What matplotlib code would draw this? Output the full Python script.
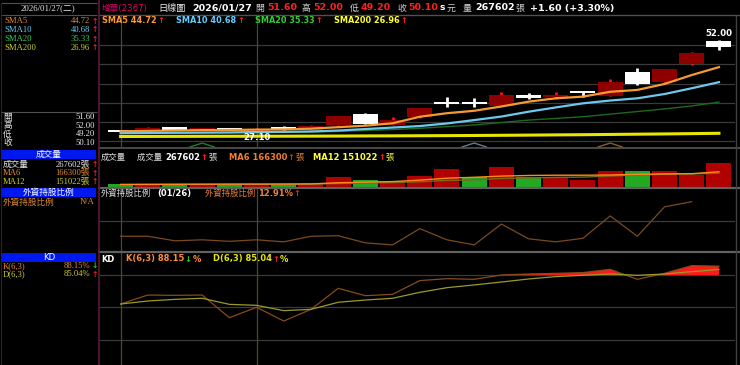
import matplotlib
matplotlib.use('Agg')
import matplotlib.pyplot as plt
from matplotlib.patches import Rectangle
import matplotlib.transforms as mtransforms
import numpy as np

# ---------------- data ----------------
open_ = [27.85, 27.70, 28.55, 27.95, 28.00, 27.70, 28.70, 27.90, 29.20, 32.10, 29.30, 31.20,
         35.05, 35.40, 34.40, 37.30, 36.60, 37.85, 37.00, 43.50, 40.65, 45.55, 51.60]
high = [27.90, 28.60, 28.60, 28.20, 28.10, 28.50, 28.80, 29.30, 31.70, 32.50, 31.30, 33.80,
        36.60, 36.35, 38.10, 37.85, 38.10, 38.40, 41.45, 44.40, 44.30, 48.70, 52.00]
low = [27.20, 27.60, 27.80, 27.80, 27.80, 27.10, 27.80, 27.80, 29.10, 29.40, 29.20, 31.00,
       34.00, 34.00, 34.30, 36.10, 36.20, 36.80, 36.90, 39.90, 40.20, 45.40, 49.20]
close = [27.30, 28.45, 27.90, 28.05, 27.90, 28.20, 27.85, 28.90, 31.60, 29.50, 30.60, 33.70,
         34.95, 34.75, 37.25, 36.50, 37.15, 37.75, 40.80, 40.10, 44.15, 48.50, 50.10]

sma5 = [27.50, 27.60, 27.70, 27.80, 27.85, 27.95, 28.00, 28.20, 28.60, 29.00, 29.65, 31.40,
        32.35, 33.00, 34.15, 35.45, 36.35, 36.80, 38.10, 38.60, 40.20, 42.60, 44.72]
sma10 = [27.00, 27.05, 27.10, 27.15, 27.20, 27.30, 27.35, 27.45, 27.70, 28.10, 28.50, 28.90,
         29.60, 30.50, 31.45, 32.75, 33.90, 35.00, 35.75, 36.35, 37.50, 39.05, 40.68]
sma20 = [26.90, 26.95, 27.00, 27.05, 27.10, 27.15, 27.20, 27.30, 27.45, 27.70, 27.95, 28.30,
         28.75, 29.20, 29.85, 30.50, 30.95, 31.40, 32.10, 32.80, 33.50, 34.30, 35.33]
sma200 = [26.10, 26.12, 26.13, 26.15, 26.16, 26.17, 26.18, 26.20, 26.22, 26.25, 26.27, 26.30,
          26.33, 26.37, 26.42, 26.47, 26.53, 26.58, 26.65, 26.72, 26.79, 26.87, 26.96]

volume = [28000, 30000, 29000, 30000, 29000, 31000, 30000, 38000, 105000, 75000, 64000, 119000,
          197000, 112000, 223000, 105000, 94000, 75000, 175000, 175000, 175000, 130000, 267602]
vol_up = [0, 1, 0, 1, 0, 1, 0, 1, 1, 0, 1, 1, 1, 0, 1, 0, 1, 1, 1, 0, 1, 1, 1]
vol_ma6 = [25000, 26000, 27000, 28000, 28500, 29000, 29500, 31000, 44000, 51000, 57000, 73000,
           95000, 105000, 118000, 125000, 128000, 128000, 130000, 138000, 142000, 145000, 166300]
vol_ma12 = [24000, 25000, 25500, 26000, 26500, 27000, 27500, 28500, 35000, 41000, 46000, 55000,
            70000, 76000, 92000, 98000, 104000, 107000, 119000, 130000, 139000, 141000, 151022]

foreign = [12.23, 12.23, 12.14, 12.16, 12.13, 12.16, 12.12, 12.23, 12.24, 12.10, 12.06, 12.38,
           12.16, 12.06, 12.47, 12.18, 12.12, 12.19, 12.63, 12.23, 12.81, 12.91]

k_val = [53.2, 61.5, 61.2, 61.5, 40.6, 50.2, 37.5, 48.3, 67.7, 60.9, 62.2, 74.8,
         76.6, 76.0, 80.0, 80.9, 81.5, 82.2, 85.2, 76.0, 81.5, 88.6, 88.15]
d_val = [53.2, 56.0, 57.5, 58.5, 52.9, 52.0, 47.1, 48.3, 54.8, 56.9, 58.5, 64.0,
         68.3, 70.8, 73.5, 76.3, 78.5, 79.7, 80.9, 79.7, 80.9, 83.1, 85.04]

caret_idx = [3, 13, 18]
caret_col = ['#1f7a2a', '#6a7a88', '#8a5a2a']

# ---------------- figure ----------------
W, H = 740, 365
fig = plt.figure(figsize=(W / 100, H / 100), dpi=100, facecolor='black')
renderer = fig.canvas.get_renderer()

CJK = ['DejaVu Sans', 'Noto Sans CJK TC']
SERIF = ['Liberation Serif', 'Noto Sans CJK TC']


def axes_px(x0, y0, x1, y1):
    a = fig.add_axes([x0 / W, 1 - y1 / H, (x1 - x0) / W, (y1 - y0) / H])
    a.set_facecolor('black')
    for s in a.spines.values():
        s.set_visible(False)
    a.set_xticks([])
    a.set_yticks([])
    return a


n = len(close)
idx = np.arange(n)
XL = (-0.757, 22.59)
GRID = '#3a3a3a'

# ---- price panel ----
axp = axes_px(100, 15, 735, 147)
axp.set_xlim(*XL)
axp.set_ylim(23.28, 58.71)
for gy in np.linspace(24.76, 50.66, 6):
    axp.axhline(gy, color=GRID, lw=0.9, zorder=0)
for gx in (0, 5):
    axp.axvline(gx, color='#474747', lw=0.9, zorder=0)

axp.plot(idx, sma200, color='#e6e600', lw=2.2, zorder=2)
axp.plot(idx, sma20, color='#1d6a1d', lw=1.0, zorder=2)
axp.plot(idx, sma10, color='#6cc8ec', lw=1.6, zorder=4)
axp.plot(idx, sma5, color='#f59a30', lw=1.6, zorder=4)

for i in range(n):
    o, h, l, c = open_[i], high[i], low[i], close[i]
    up = c >= o
    body_c = '#8e0000' if up else '#ffffff'
    wick_c = '#ff1010' if up else '#ffffff'
    axp.vlines(i, l, h, color=wick_c, lw=2.0, zorder=3)
    bh = max(abs(c - o), 0.45)
    axp.add_patch(Rectangle((i - 0.46, min(o, c)), 0.92, bh, facecolor=body_c,
                            edgecolor='none', zorder=3.5))

axp.annotate(f'{high[-1]:.2f}', (n - 1, high[-1]), xytext=(0, 1.5), textcoords='offset points',
             ha='center', va='bottom', color='white', fontsize=6.2, fontweight='bold')
imin = int(np.argmin(low))
axp.annotate(f'{low[imin]:.2f}', (imin, low[imin]), xytext=(0, -0.5), textcoords='offset points',
             ha='center', va='top', color='white', fontsize=6.2, fontweight='bold', zorder=6)

btr = mtransforms.blended_transform_factory(axp.transData, axp.transAxes)
for ci, cc in zip(caret_idx, caret_col):
    axp.plot([ci - 0.45, ci, ci + 0.45], [0.0, 0.03, 0.0], color=cc, lw=1.0,
             transform=btr, clip_on=False, zorder=5)

# ---- volume panel ----
axv = axes_px(100, 149, 735, 186.7)
axv.set_xlim(*XL)
axv.set_ylim(0, 420000)
vcols = ['#b00000' if u else '#22a822' for u in vol_up]
axv.bar(idx, volume, width=0.92, color=vcols, zorder=2)
axv.plot(idx, vol_ma12, color='#7a6a14', lw=1.0, zorder=3)
axv.plot(idx, vol_ma6, color='#ff8a1a', lw=1.0, zorder=3)

# ---- foreign holding panel ----
axf = axes_px(100, 188, 735, 252)
axf.set_xlim(*XL)
axf.set_ylim(11.92, 13.18)
axf.axhline(12.54, color=GRID, lw=0.9, zorder=0)
for gx in (0, 5):
    axf.axvline(gx, color='#474747', lw=0.9, zorder=0)
axf.plot(np.arange(len(foreign)), foreign, color='#7a4a1e', lw=0.9, zorder=2)

# ---- KD panel ----
axk = axes_px(100, 252, 735, 365)
axk.set_xlim(*XL)
axk.set_ylim(-3.05, 101.2)
for gy in (20, 50, 80):
    axk.axhline(gy, color=GRID, lw=0.9, zorder=0)
for gx in (0, 5):
    axk.axvline(gx, color='#4a4a30', lw=0.9, zorder=0)
kk = np.array(k_val)
axk.fill_between(idx, kk, 80, where=kk > 80, interpolate=True, color='#ff1a1a', lw=0, zorder=1)
axk.plot(idx, k_val, color='#8a4a1c', lw=0.9, zorder=2)
axk.plot(idx, d_val, color='#9a9a2a', lw=0.9, zorder=2)

# ---------------- overlay (pixel coords) ----------------
ax0 = fig.add_axes([0, 0, 1, 1], zorder=10)
ax0.set_xlim(0, W)
ax0.set_ylim(H, 0)
ax0.axis('off')
ax0.patch.set_alpha(0)


def T(x, y, s, c, size=6.0, bold=False, fam=None, ha='left'):
    return ax0.text(x, y, s, color=c, fontsize=size, fontweight='bold' if bold else 'normal',
                    family=fam or CJK, ha=ha, va='center')


def chain(x, y, pieces, gap=0.5):
    """pieces: list of (text, color, size, bold, fam); drawn left to right."""
    for s, c, size, bold, fam in pieces:
        t = T(x, y, s, c, size, bold, fam)
        x += t.get_window_extent(renderer).width + gap
    return x


def L(xs, ys, c, lw=1.0):
    ax0.plot(xs, ys, color=c, lw=lw, solid_capstyle='butt')


RED = '#ff1a1a'
ARW = 6.0

# borders / separators
L([98, 740], [15, 15], '#505050', 1.0)
L([98, 740], [148, 148], '#555555', 1.2)
L([98, 740], [187.8, 187.8], '#606060', 1.6)
L([98, 740], [251.8, 251.8], '#606060', 1.6)
L([98.5, 98.5], [0, 365], '#5a1a3a', 1.2)
L([735.5, 735.5], [15, 365], '#404040', 1.0)
L([1, 97], [2.5, 2.5], '#505050', 0.8)
L([1, 97], [15, 15], '#505050', 0.8)
L([1, 1], [2.5, 365], '#3a1a2a', 0.8)
L([1, 97], [111.5, 111.5], '#505050', 0.8)

# header
T(48, 8.5, '2026/01/27(二)', '#e8e8e8', 6.3, fam=SERIF, ha='center')
T(102, 8, '增華(2367)', '#d8006a', 6.2)
T(158, 8, '日線圖', '#e8e8e8', 6.6)
T(192, 8, '2026/01/27', '#ffffff', 6.8, bold=True)
hdr = [(255, '開', 267, '51.60'), (302, '高', 313, '52.00'), (350, '低', 361, '49.20'),
       (397, '收', 408, '50.10')]
for xl, lab, xv, val in hdr:
    T(xl, 8, lab, '#d0d0d0', 6.4)
    T(xv, 8, val, '#ff2020', 6.8, bold=True)
T(440, 8, 's', '#ffffff', 6.6, bold=True)
T(447, 8, '元', '#d0d0d0', 6.4)
T(463, 8, '量', '#d0d0d0', 6.4)
T(475, 8, '267602', '#ffffff', 6.8, bold=True)
T(515, 8, '張', '#d0d0d0', 6.4)
T(530, 8, '+1.60 (+3.30%)', '#ffffff', 6.8, bold=True)

# price legend
leg = [(102, 'SMA5 44.72', '#ff9a30'), (176, 'SMA10 40.68', '#66ccff'),
       (255, 'SMA20 35.33', '#33cc33'), (334, 'SMA200 26.96', '#ffff33')]
for x, s, c in leg:
    chain(x, 20.5, [(s, c, 5.9, True, None), ('↑', RED, ARW, True, None)], gap=1.0)

# volume legend
T(101, 157, '成交量', '#e0e0e0', 6.0)
chain(137, 157, [('成交量 ', '#e0e0e0', 6.0, False, None), ('267602', '#ffffff', 6.0, True, None),
                 ('↑', RED, ARW, True, None), ('張', '#e0e0e0', 6.0, False, None)])
chain(229, 157, [('MA6 166300', '#f08030', 6.0, True, None), ('↑', RED, ARW, True, None),
                 ('張', '#f08030', 6.0, False, None)])
chain(313, 157, [('MA12 151022', '#ffff33', 6.0, True, None), ('↑', RED, ARW, True, None),
                 ('張', '#ffff33', 6.0, False, None)])

# foreign legend
T(101, 193.5, '外資持股比例', '#e0e0e0', 6.0)
T(157, 193.5, '(01/26)', '#ffffff', 6.0, bold=True)
chain(205, 193.5, [('外資持股比例 ', '#f08030', 6.0, False, None),
                   ('12.91%', '#f08030', 6.0, True, None), ('↑', RED, ARW, True, None)])

# KD legend
T(101, 259, 'KD', '#ffffff', 6.0, bold=True)
chain(126, 259, [('K(6,3) 88.15', '#ff8c3a', 6.0, True, None), ('↓', '#22cc22', ARW, True, None),
                 ('%', '#ff8c3a', 6.0, True, None)])
chain(213, 259, [('D(6,3) 85.04', '#e6e600', 6.0, True, None), ('↑', RED, ARW, True, None),
                 ('%', '#e6e600', 6.0, True, None)])

# left panel
rows = [(21, 'SMA5', '44.72', '#e08a30'), (30, 'SMA10', '40.68', '#66ccee'),
        (39, 'SMA20', '35.33', '#33cc55'), (48, 'SMA200', '26.96', '#cccc33')]
for y, lab, val, c in rows:
    T(4, y, lab, c, 6.2, fam=SERIF)
    T(90, y, val, c, 6.2, fam=SERIF, ha='right')
    T(91.5, y, '↑', RED, 5.5, bold=True)

ohlc_rows = [(117, '開', '51.60'), (125.7, '高', '52.00'), (134.4, '低', '49.20'), (143, '收', '50.10')]
for y, lab, val in ohlc_rows:
    T(3, y, lab, '#e8e8e8', 6.2)
    T(95, y, val, '#e8e8e8', 6.2, fam=SERIF, ha='right')


def blue_bar(y0, y1, s):
    ax0.add_patch(Rectangle((2, y0), 94, y1 - y0, facecolor='#0018f0', edgecolor='none'))
    T(49, (y0 + y1) / 2, s, '#ffffff', 6.2, ha='center')


blue_bar(150, 158.5, '成交量')
T(3, 164.5, '成交量', '#e8e8e8', 6.2)
T(90, 164.5, '267602張', '#e8e8e8', 6.2, fam=SERIF, ha='right')
T(91.5, 164.5, '↑', RED, 5.5, bold=True)
T(3, 173, 'MA6', '#e08a30', 6.2, fam=SERIF)
T(90, 173, '166300張', '#e08a30', 6.2, fam=SERIF, ha='right')
T(91.5, 173, '↑', RED, 5.5, bold=True)
T(3, 181.7, 'MA12', '#cccc33', 6.2, fam=SERIF)
T(90, 181.7, '151022張', '#cccc33', 6.2, fam=SERIF, ha='right')
T(91.5, 181.7, '↑', RED, 5.5, bold=True)

blue_bar(188.3, 196.7, '外資持股比例')
T(3, 202.5, '外資持股比例', '#e08a30', 6.2)
T(95, 202.5, 'N/A', '#e08a30', 6.2, fam=SERIF, ha='right')

blue_bar(253.3, 262.3, 'KD')
T(3, 266, 'K(6,3)', '#e08a30', 6.2, fam=SERIF)
T(90, 266, '88.15%', '#e08a30', 6.2, fam=SERIF, ha='right')
T(91.5, 266, '↓', '#22cc22', 5.5, bold=True)
T(3, 274.5, 'D(6,3)', '#cccc33', 6.2, fam=SERIF)
T(90, 274.5, '85.04%', '#cccc33', 6.2, fam=SERIF, ha='right')
T(91.5, 274.5, '↑', RED, 5.5, bold=True)

fig.savefig('out.png', dpi=100, facecolor='black')
